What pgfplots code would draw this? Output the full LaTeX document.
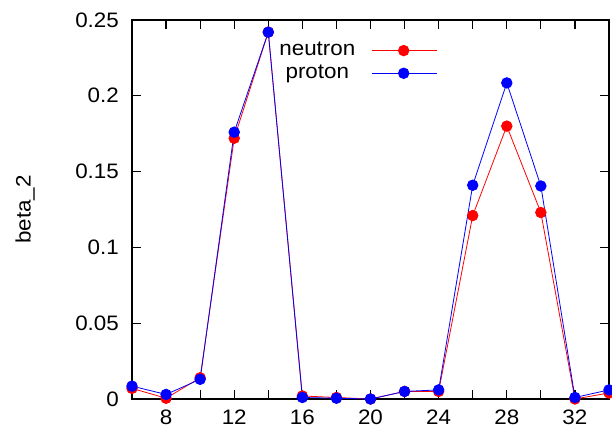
\documentclass[border=0pt]{standalone}
\usepackage{pgfplots}
\pgfplotsset{compat=1.18}
\usepackage{fontspec}
\setmainfont[FakeStretch=1.07]{Liberation Sans}
\begin{document}
\fontsize{21}{25}\selectfont
\begin{tikzpicture}
\begin{axis}[
  at={(132bp,36bp)}, anchor=south west,
  scale only axis, width=477bp, height=379bp,
  xmin=6, xmax=34, ymin=0, ymax=0.25,
  clip=false,
  axis line style={line width=1.2bp},
  every tick/.style={black, line width=1.2bp},
  major tick length=9bp,
  tick align=inside,
  xtick={6,8,...,34},
  xticklabels={,8,,12,,16,,20,,24,,28,,32,},
  ytick={0,0.05,0.1,0.15,0.2,0.25},
  yticklabels={0,0.05,0.1,0.15,0.2,0.25},
  /pgf/number format/assume math mode=true,
  tick label style={font=\fontsize{21}{25}\selectfont},
  yticklabel style={xshift=-6bp},
  xticklabel style={yshift=-4bp},
  ylabel={beta\_2},
  ylabel style={at={(rel axis cs:0,0.5)}, anchor=center, yshift=107bp, font=\fontsize{21}{25}\selectfont},
  legend plot pos=right,
  legend cell align=center,
  legend style={at={(rel axis cs:0.64,0.947)}, anchor=north east, draw=none, fill=none,
    inner sep=0pt, font=\fontsize{21}{25}\selectfont,
    row sep=2bp,
    /tikz/every odd column/.append style={column sep=14bp}},
  legend image code/.code={\draw[mark repeat=2, mark phase=2] plot coordinates {(0bp,0bp) (32bp,0bp) (65bp,0bp)};},
]
\addplot[color=red, line width=0.8bp, mark=*, mark size=5.3bp, mark options={solid, fill=red, draw=red}] coordinates {
(6,0.007) (8,0.0005) (10,0.014) (12,0.172) (14,0.242) (16,0.002) (18,0.001) (20,0.000) (22,0.005) (24,0.005) (26,0.121) (28,0.180) (30,0.123) (32,0.000) (34,0.004)
};
\addlegendentry{neutron}
\addplot[color=blue, line width=0.8bp, mark=*, mark size=5.3bp, mark options={solid, fill=blue, draw=blue}] coordinates {
(6,0.0085) (8,0.003) (10,0.013) (12,0.176) (14,0.242) (16,0.001) (18,0.0005) (20,0.000) (22,0.005) (24,0.006) (26,0.141) (28,0.2085) (30,0.1405) (32,0.001) (34,0.006)
};
\addlegendentry{proton}
\end{axis}
\pgfresetboundingbox
\path[use as bounding box] (0,0) rectangle (612bp,435bp);
\end{tikzpicture}
\end{document}
